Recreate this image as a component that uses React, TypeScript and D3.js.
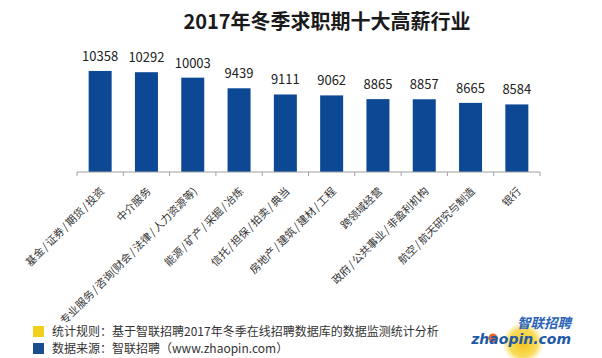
import React from "react";
import * as d3 from "d3";

const title = "2017年冬季求职期十大高薪行业";
const categories = [
  "基金/证券/期货/投资",
  "中介服务",
  "专业服务/咨询(财会/法律/人力资源等)",
  "能源/矿产/采掘/冶炼",
  "信托/担保/拍卖/典当",
  "房地产/建筑/建材/工程",
  "跨领域经营",
  "政府/公共事业/非盈利机构",
  "航空/航天研究与制造",
  "银行",
];
const values = [10358, 10292, 10003, 9439, 9111, 9062, 8865, 8857, 8665, 8584];
const legendItems = [
  { text: "统计规则：基于智联招聘2017年冬季在线招聘数据库的数据监测统计分析", color: "#f0d01c" },
  { text: "数据来源：智联招聘（www.zhaopin.com）", color: "#1a4d8f" },
];
const yDomain = [5000, 12000];

const W = 602;
const H = 358;
const CJK = "'Noto Sans CJK SC', 'Noto Sans', sans-serif";

function LabelText({ text }: { text: string }) {
  const parts = text.split(/(\/)/).filter((p) => p.length > 0);
  let prevSlash = false;
  return (
    <>
      {parts.map((p, i) => {
        const isSlash = p === "/";
        const dx = isSlash || prevSlash ? 1.3 : 0;
        prevSlash = isSlash;
        return (
          <tspan key={i} dx={dx}>
            {p}
          </tspan>
        );
      })}
    </>
  );
}

export default function App() {
  const x = d3.scaleBand<string>().domain(categories).range([77, 540]).paddingInner(0).paddingOuter(0);
  const y = d3.scaleLinear().domain(yDomain).range([172, 40]);
  const barW = 23;
  const base = y(yDomain[0]);
  const ticks = categories.map((c) => x(c)!).concat([540]);

  return (
    <svg width={W} height={H} style={{ position: "absolute", left: 0, top: 0, background: "#fff" }}>
      <rect width={W} height={H} fill="#fff" />
      <text x={327} y={29} textAnchor="middle" fontFamily={CJK} fontWeight={700} fontSize={20} fill="#1a1a1a">
        {title}
      </text>
      {categories.map((c, i) => {
        const cx = x(c)! + x.bandwidth() / 2;
        return (
          <g key={c}>
            <rect x={cx - barW / 2} y={y(values[i])} width={barW} height={base - y(values[i])} fill="#0c4894" />
            <text x={cx} y={y(values[i]) - 10} textAnchor="middle" fontFamily={CJK} fontSize={13} fill="#222">
              {values[i]}
            </text>
            <text
              transform={`translate(${cx + 5},${base + 20}) rotate(-45)`}
              textAnchor="end"
              fontFamily={CJK}
              fontSize={10.7}
              fill="#333"
            >
              <LabelText text={c} />
            </text>
          </g>
        );
      })}
      <line x1={77} x2={540} y1={base} y2={base} stroke="#a0a0a0" strokeWidth={1} />
      {ticks.map((t, i) => (
        <line key={i} x1={t} x2={t} y1={base} y2={base + 4} stroke="#a0a0a0" strokeWidth={1} />
      ))}
      {legendItems.map((d, i) => (
        <g key={i}>
          <rect x={33} y={326 + i * 17} width={11} height={11} fill={d.color} />
          <text x={52} y={336 + i * 17} fontFamily={CJK} fontSize={12} fill="#333">
            {d.text}
          </text>
        </g>
      ))}
      <defs>
        <radialGradient id="ball" cx="50%" cy="50%" r="50%">
          <stop offset="0%" stopColor="#f6c21a" />
          <stop offset="70%" stopColor="#f8d84a" stopOpacity={0.9} />
          <stop offset="100%" stopColor="#fbe98a" stopOpacity={0.2} />
        </radialGradient>
      </defs>
      <circle cx={523} cy={343} r={20} fill="url(#ball)" />
      <circle cx={493} cy={338} r={4.5} fill="#e8642a" />
      <text x={571} y={328} textAnchor="end" fontFamily={CJK} fontWeight={700} fontStyle="italic" fontSize={13.5} fill="#2a63b8">
        智联招聘
      </text>
      <text x={571} y={344} textAnchor="end" fontFamily="'DejaVu Sans', sans-serif" fontWeight={700} fontStyle="italic" fontSize={14} fill="#1f5aa8">
        zhaopin.com
      </text>
    </svg>
  );
}
